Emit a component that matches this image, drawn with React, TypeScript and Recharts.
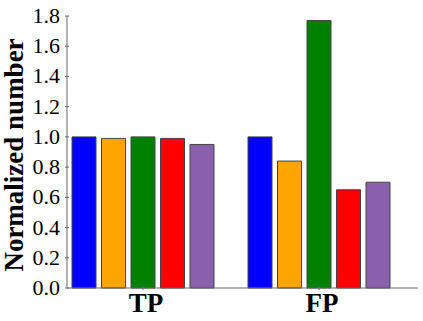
import React from "react"
import { BarChart, Bar, XAxis, YAxis } from "recharts"

const categories = ["TP", "FP"]
const blueValues = [1.0, 1.0]
const orangeValues = [0.99, 0.84]
const greenValues = [1.0, 1.77]
const redValues = [0.99, 0.65]
const purpleValues = [0.95, 0.7]
const yTicks = [0, 0.2, 0.4, 0.6, 0.8, 1.0, 1.2, 1.4, 1.6, 1.8]

const data = categories.map((name, i) => ({
  name,
  blue: blueValues[i],
  orange: orangeValues[i],
  green: greenValues[i],
  red: redValues[i],
  purple: purpleValues[i],
}))

const series = [
  { key: "blue", color: "#0000ff" },
  { key: "orange", color: "#ffa500" },
  { key: "green", color: "#008000" },
  { key: "red", color: "#ff0000" },
  { key: "purple", color: "#8a5fae" },
]

const frame = "#666"
const serif = "Liberation Serif, serif"

const LeftTick = (props: any) => {
  const { x, y, payload } = props
  return (
    <g>
      <line x1={x} x2={x + 4} y1={y} y2={y} stroke={frame} />
      <text
        x={x - 5}
        y={y + 7}
        textAnchor="end"
        style={{ fontFamily: serif, fontSize: 22, fill: "#000" }}
      >
        {Number(payload.value).toFixed(1)}
      </text>
    </g>
  )
}

const RightTick = (props: any) => {
  const { x, y } = props
  return <line x1={x - 4} x2={x} y1={y} y2={y} stroke={frame} />
}

const BottomTick = (props: any) => {
  const { x, y, payload } = props
  return (
    <g>
      <line x1={x} x2={x} y1={y} y2={y - 4} stroke={frame} />
      <text
        x={x + 3}
        y={y + 22}
        textAnchor="middle"
        style={{ fontFamily: serif, fontWeight: "bold", fontSize: 27, fill: "#000" }}
      >
        {payload.value}
      </text>
    </g>
  )
}

const TopTick = (props: any) => {
  const { x, y } = props
  return <line x1={x} x2={x} y1={y} y2={y + 4} stroke={frame} />
}

const YLabel = (props: any) => {
  const { viewBox } = props
  const cy = viewBox.y + viewBox.height / 2 + 3
  return (
    <text
      x={23}
      y={cy}
      transform={`rotate(-90, 23, ${cy})`}
      textAnchor="middle"
      style={{ fontFamily: serif, fontWeight: "bold", fontSize: 27, fill: "#000" }}
    >
      Normalized number
    </text>
  )
}

const App = () => {
  return (
    <div style={{ position: "absolute", left: 0, top: 0, width: 423, height: 321, background: "#fff" }}>
      <BarChart
        width={423}
        height={321}
        data={data}
        margin={{ top: 16, right: 5, left: 0, bottom: 0 }}
        barSize={24}
        barGap={5.5}
      >
        <XAxis
          dataKey="name"
          height={33}
          padding={{ left: -12, right: 11 }}
          axisLine={{ stroke: frame }}
          tickLine={false}
          tickSize={0}
          tick={<BottomTick />}
          interval={0}
        />
        <XAxis
          xAxisId="top"
          orientation="top"
          dataKey="name"
          height={0}
          padding={{ left: -12, right: 11 }}
          axisLine={{ stroke: frame }}
          tickLine={false}
          tickSize={0}
          tick={<TopTick />}
          interval={0}
        />
        <YAxis
          width={67}
          domain={[0, 1.8]}
          ticks={yTicks}
          axisLine={{ stroke: frame }}
          tickLine={false}
          tickSize={0}
          tick={<LeftTick />}
          interval={0}
          label={<YLabel />}
        />
        <YAxis
          yAxisId="right"
          orientation="right"
          width={0}
          domain={[0, 1.8]}
          ticks={yTicks}
          axisLine={{ stroke: frame }}
          tickLine={false}
          tickSize={0}
          tick={<RightTick />}
          interval={0}
        />
        {series.map((s) => (
          <Bar
            key={s.key}
            dataKey={s.key}
            fill={s.color}
            stroke="#444"
            strokeWidth={1}
            isAnimationActive={false}
          />
        ))}
      </BarChart>
    </div>
  )
}

export default App
